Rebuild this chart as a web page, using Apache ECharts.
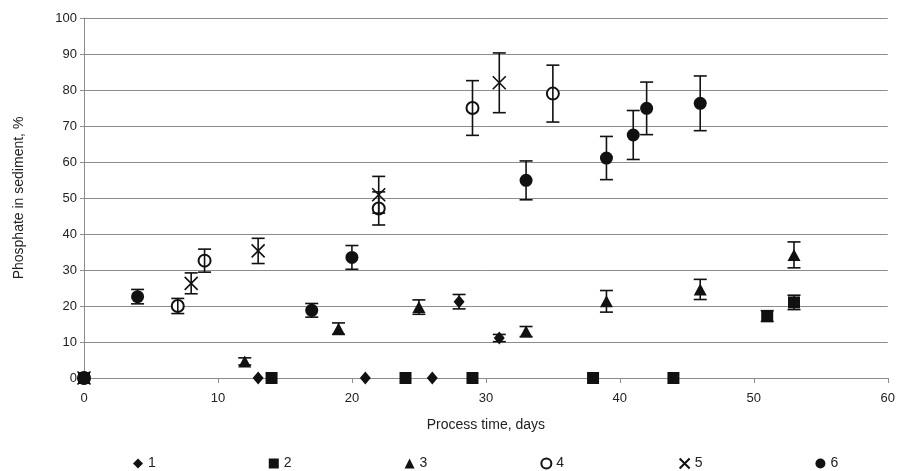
<!DOCTYPE html>
<html>
<head>
<meta charset="utf-8">
<script src="https://cdn.jsdelivr.net/npm/echarts@6/dist/echarts.min.js"></script>
<style>
  html, body { margin: 0; padding: 0; background: #fff; }
  #chart { width: 898px; height: 471px; }
</style>
</head>
<body>
<div id="chart"></div>
<script>
// [day, phosphate %, error]
const set1 = [[0, 0, 0], [13, 0, 0], [21, 0, 0], [26, 0, 0], [28, 21.2, 2], [31, 11.1, 1]];
const set2 = [[0, 0, 0], [14, 0, 0], [24, 0, 0], [29, 0, 0], [38, 0, 0], [44, 0, 0], [51, 17.2, 1.5], [53, 21, 2]];
const set3 = [[0, 0, 0], [12, 4.6, 1], [19, 13.7, 1.6], [25, 19.7, 2], [33, 12.9, 1.4], [39, 21.3, 3], [46, 24.6, 2.8], [53, 34.2, 3.6]];
const set4 = [[0, 0, 0], [7, 20, 2.1], [9, 32.6, 3.2], [22, 47.1, 4.6], [29, 75, 7.6], [35, 79, 7.9]];
const set5 = [[0, 0, 0], [8, 26.3, 2.9], [13, 35.3, 3.5], [22, 50.9, 5.1], [31, 82, 8.3]];
const set6 = [[0, 0, 0], [4, 22.6, 2], [17, 18.8, 1.9], [20, 33.5, 3.3], [33, 54.9, 5.4], [39, 61.1, 6], [41, 67.5, 6.8], [42, 74.9, 7.3], [46, 76.3, 7.6]];
const setNames = ['1', '2', '3', '4', '5', '6'];

const FONT = 'Liberation Sans';
const crossPath = 'path://M0,0L10,10M10,0L0,10';

let chart = echarts.init(document.getElementById('chart'));

let markers = [
  { data: set1, symbol: 'diamond', size: [11, 13] },
  { data: set2, symbol: 'rect', size: 12 },
  { data: set3, symbol: 'triangle', size: [13, 12] },
  { data: set4, symbol: 'emptyCircle', size: 12 },
  { data: set5, symbol: crossPath, size: 13 },
  { data: set6, symbol: 'circle', size: 13 }
];

let errBars = function (params, api) {
  let x = api.value(0), y = api.value(1), e = api.value(2);
  if (!e) return;
  let top = api.coord([x, y + e]);
  let bot = api.coord([x, y - e]);
  let cap = 6.5;
  let st = { stroke: '#111', lineWidth: 1.6 };
  return {
    type: 'group',
    children: [
      { type: 'line', shape: { x1: top[0], y1: top[1], x2: bot[0], y2: bot[1] }, style: st },
      { type: 'line', shape: { x1: top[0] - cap, y1: top[1], x2: top[0] + cap, y2: top[1] }, style: st },
      { type: 'line', shape: { x1: bot[0] - cap, y1: bot[1], x2: bot[0] + cap, y2: bot[1] }, style: st }
    ]
  };
};

let series = [];
markers.forEach(function (m, i) {
  let isCross = m.symbol === crossPath;
  let isEmpty = m.symbol === 'emptyCircle';
  series.push({
    name: setNames[i],
    type: 'scatter',
    data: m.data.map(function (d) { return [d[0], d[1]]; }),
    symbol: m.symbol,
    symbolSize: m.size,
    itemStyle: isCross ? { color: 'none', borderColor: '#111', borderWidth: 1.6, opacity: 1 }
      : isEmpty ? { color: '#111', borderColor: '#111', borderWidth: 1.3, opacity: 1 }
      : { color: '#111', opacity: 1 },
    emphasis: { disabled: true },
    z: 3
  });
  series.push({
    type: 'custom',
    renderItem: errBars,
    data: m.data,
    silent: true,
    z: 4
  });
});

let opts = {
  animation: false,
  backgroundColor: '#fff',
  textStyle: { fontFamily: FONT },
  grid: { left: 84, right: 8, top: 18, bottom: 93 },
  legend: {
    data: setNames,
    left: 128,
    top: 451,
    itemWidth: 10,
    itemHeight: 10,
    itemGap: 113,
    textStyle: { fontFamily: FONT, fontSize: 14, color: '#222' }
  },
  xAxis: {
    type: 'value',
    min: 0, max: 60, interval: 10,
    name: 'Process time, days',
    nameLocation: 'middle',
    nameGap: 40,
    nameTextStyle: { fontFamily: FONT, fontSize: 14, color: '#222' },
    axisLine: { lineStyle: { color: '#8c8c8c', width: 1 } },
    axisTick: { show: true, length: 5, lineStyle: { color: '#8c8c8c' } },
    axisLabel: { fontFamily: FONT, fontSize: 13, color: '#222', margin: 14 },
    splitLine: { show: false }
  },
  yAxis: {
    type: 'value',
    min: 0, max: 100, interval: 10,
    name: 'Phosphate in sediment, %',
    nameLocation: 'middle',
    nameGap: 58,
    nameRotate: 90,
    nameTextStyle: { fontFamily: FONT, fontSize: 14, color: '#222' },
    axisLine: { show: true, lineStyle: { color: '#8c8c8c', width: 1 } },
    axisTick: { show: true, length: 4, lineStyle: { color: '#8c8c8c' } },
    axisLabel: { fontFamily: FONT, fontSize: 13, color: '#222', margin: 7 },
    splitLine: { show: true, lineStyle: { color: '#8c8c8c', width: 1 } }
  },
  series: series
};

chart.setOption(opts);
</script>
</body>
</html>
